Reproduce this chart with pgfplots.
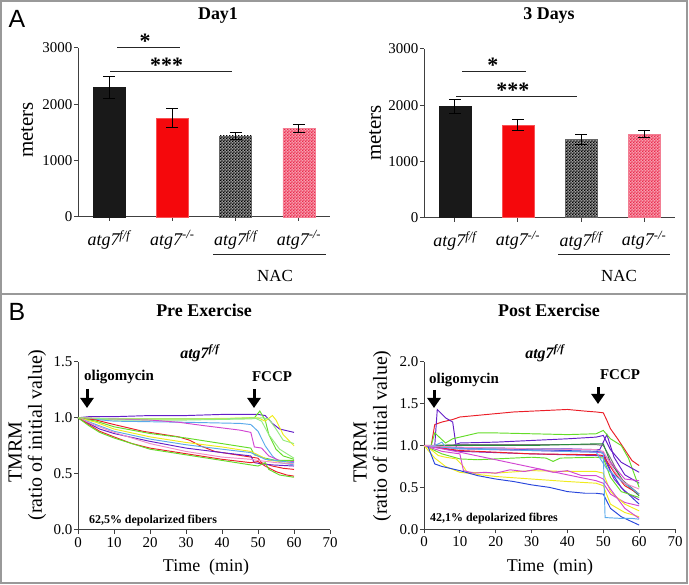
\documentclass[border=0pt]{standalone}
\usepackage{fontspec}
\setmainfont{Liberation Serif}
\newfontfamily\sansf{Liberation Sans}
\usepackage{pgfplots}
\pgfplotsset{compat=1.18}
\usetikzlibrary{patterns,arrows.meta}
\pgfdeclarepatternformonly{finecheck}{\pgfpointorigin}{\pgfqpoint{3.2bp}{3.2bp}}{\pgfqpoint{3.2bp}{3.2bp}}{%
  \pgfpathrectangle{\pgfpointorigin}{\pgfqpoint{1.65bp}{1.65bp}}%
  \pgfpathrectangle{\pgfqpoint{1.6bp}{1.6bp}}{\pgfqpoint{1.65bp}{1.65bp}}%
  \pgfusepath{fill}}
\definecolor{barBlack}{RGB}{25,25,25}
\definecolor{barRed}{RGB}{245,8,12}
\definecolor{barPink}{RGB}{235,40,75}
\definecolor{tRed}{RGB}{235,30,40}
\definecolor{tGreen}{RGB}{100,220,40}
\definecolor{tLGreen}{RGB}{150,235,130}
\definecolor{tPurple}{RGB}{100,30,200}
\definecolor{tMag}{RGB}{210,70,210}
\definecolor{tYel}{RGB}{240,235,30}
\definecolor{tLBlue}{RGB}{90,170,235}
\definecolor{tBlue}{RGB}{40,70,220}
\definecolor{tPink}{RGB}{240,140,200}
\definecolor{tGray}{RGB}{120,120,120}
\definecolor{tDGreen}{RGB}{40,140,60}
\pgfplotsset{
  panel/.style={scale only axis, anchor=south west, axis lines=left,
    axis line style={-, line width=1bp, black!75},
    tick align=outside, major tick length=4bp,
    tick style={line width=1bp, black!75},
    /pgf/number format/assume math mode=true,
    /pgf/number format/1000 sep={},
    tick label style={font=\rmfamily\fontsize{15}{15}\selectfont},
    yticklabel style={inner sep=1.5bp},
    clip=false},
  barpanel/.style={panel, xmin=-0.49, xmax=3.49, ymin=0, ymax=3000,
    ytick={0,1000,2000,3000}, xtick={0,1,2,3},
    xticklabels={atg7\textsuperscript{f/f}, atg7\textsuperscript{-/-}, atg7\textsuperscript{f/f}, atg7\textsuperscript{-/-}},
    xticklabel style={font=\rmfamily\fontsize{18}{18}\selectfont\itshape, yshift=-6bp}},
  bb/.style={ybar, bar shift=0pt, bar width=32bp},
  eb/.style={error bars/.cd, y dir=both, y explicit,
    error bar style={line width=1bp, black},
    error mark options={rotate=90, mark size=6bp, line width=1bp, black}},
  tracepanel/.style={panel, xmin=0, xmax=70, ymin=0, xtick={0,10,...,70},
    yticklabel style={/pgf/number format/.cd, fixed, fixed zerofill, precision=1},
    every axis plot/.append style={line width=0.95bp, mark=none}},
}
\begin{document}
\begin{tikzpicture}[x=1bp,y=1bp]
\path (0,0) rectangle (689,585);
\draw[black!40, line width=1.5bp] (1,2) rectangle (687,584);
\draw[black!40, line width=1.5bp] (1,291) -- (687,291);

% ---------- Panel A, Day1 ----------
\begin{axis}[barpanel, at={(78bp,368bp)}, width=252bp, height=169bp]
\addplot[bb, fill=barBlack, draw=barBlack, eb] coordinates {(0,2300) +- (0,190)};
\addplot[bb, fill=barRed, draw=barRed!70, eb] coordinates {(1,1760) +- (0,170)};
\addplot[bb, fill=black!40, postaction={pattern=finecheck, pattern color=black}, draw=black!60, eb] coordinates {(2,1440) +- (0,60)};
\addplot[bb, fill=barPink!45, postaction={pattern=finecheck, pattern color=barPink}, draw=barPink!60, eb] coordinates {(3,1575) +- (0,75)};
\draw[line width=1bp, black!85] (axis cs:0.13,3000) -- (axis cs:1.12,3000);
\draw[line width=1bp, black!85] (axis cs:0.02,2580) -- (axis cs:1.94,2580);
\node[anchor=base, font=\fontsize{22}{22}\selectfont\bfseries] at (axis cs:0.57,2990) {*};
\node[anchor=base, font=\fontsize{22}{22}\selectfont\bfseries] at (axis cs:0.91,2560) {***};
\end{axis}

% ---------- Panel A, 3 Days ----------
\begin{axis}[barpanel, at={(424bp,367.3bp)}, width=251bp, height=168.7bp]
\addplot[bb, fill=barBlack, draw=barBlack, eb] coordinates {(0,1980) +- (0,120)};
\addplot[bb, fill=barRed, draw=barRed!70, eb] coordinates {(1,1645) +- (0,95)};
\addplot[bb, fill=black!40, postaction={pattern=finecheck, pattern color=black}, draw=black!60, eb] coordinates {(2,1390) +- (0,90)};
\addplot[bb, fill=barPink!45, postaction={pattern=finecheck, pattern color=barPink}, draw=barPink!60, eb] coordinates {(3,1485) +- (0,65)};
\draw[line width=1bp, black!85] (axis cs:0.12,2600) -- (axis cs:1.12,2600);
\draw[line width=1bp, black!85] (axis cs:0.02,2160) -- (axis cs:1.94,2160);
\node[anchor=base, font=\fontsize{22}{22}\selectfont\bfseries] at (axis cs:0.6,2590) {*};
\node[anchor=base, font=\fontsize{22}{22}\selectfont\bfseries] at (axis cs:0.92,2140) {***};
\end{axis}

% ---------- Panel B, Pre Exercise ----------
\begin{axis}[tracepanel, at={(78bp,55bp)}, width=252bp, height=168.3bp, ymax=1.5, ytick={0,0.5,1,1.5}]
\addplot[tPurple] coordinates {(0,1.0)(3,1.01)(10,1.01)(20,1.02)(30,1.02)(40,1.03)(48,1.03)(50,1.03)(52,1.02)(54,0.95)(56,0.9)(60,0.87)};
\addplot[tGreen] coordinates {(0,1.0)(5,0.99)(20,0.99)(40,0.99)(49,1.0)(50.5,1.06)(52,0.98)(53,0.85)(55,0.72)(57,0.66)(60,0.63)};
\addplot[tYel] coordinates {(0,1.0)(10,0.99)(30,0.99)(50,1.0)(52,0.97)(54,1.02)(55,0.98)(57,0.85)(60,0.75)};
\addplot[tLGreen] coordinates {(0,1.0)(10,0.98)(30,0.98)(48,0.99)(51,1.0)(53,0.99)(55,0.9)(57,0.8)(60,0.77)};
\addplot[tLBlue] coordinates {(0,1.0)(10,0.97)(30,0.96)(45,0.95)(48,0.94)(50,0.88)(52,0.75)(54,0.66)(56,0.6)(60,0.58)};
\addplot[tMag] coordinates {(0,1.0)(10,0.99)(20,0.98)(28,0.96)(35,0.93)(45,0.89)(48,0.87)(49,0.74)(51,0.73)(53,0.66)(56,0.62)(60,0.61)};
\addplot[tRed] coordinates {(0,1.0)(5,0.98)(10,0.94)(18,0.88)(24,0.85)(28,0.83)(31,0.8)(34,0.75)(38,0.7)(44,0.67)(48,0.65)(50,0.64)(51,0.6)(54,0.57)(57,0.55)(60,0.54)};
\addplot[tGreen] coordinates {(0,1.0)(5,0.97)(10,0.92)(20,0.86)(30,0.82)(40,0.77)(48,0.73)(49,0.67)(50,0.66)(52,0.64)(55,0.62)(60,0.62)};
\addplot[tYel] coordinates {(0,1.0)(5,0.96)(10,0.9)(20,0.83)(30,0.78)(40,0.74)(48,0.7)(50,0.67)(53,0.62)(60,0.6)};
\addplot[tLBlue] coordinates {(0,1.0)(5,0.94)(10,0.88)(20,0.81)(30,0.76)(40,0.72)(48,0.69)(50,0.66)(52,0.63)(60,0.6)};
\addplot[tPurple] coordinates {(0,1.0)(3,0.95)(6,0.9)(10,0.86)(20,0.79)(30,0.73)(40,0.69)(48,0.66)(49,0.6)(51,0.59)(54,0.58)(60,0.57)};
\addplot[tPink] coordinates {(0,1.0)(5,0.93)(10,0.87)(20,0.77)(30,0.7)(40,0.65)(48,0.63)(50,0.62)(55,0.6)(60,0.59)};
\addplot[tRed] coordinates {(0,1.0)(3,0.94)(6,0.88)(10,0.83)(15,0.77)(20,0.73)(30,0.68)(40,0.63)(48,0.6)(50,0.61)(52,0.57)(55,0.52)(58,0.49)(60,0.48)};
\addplot[tGreen] coordinates {(0,1.0)(3,0.93)(6,0.87)(10,0.82)(20,0.72)(30,0.67)(40,0.62)(48,0.58)(50,0.57)(52,0.6)(53,0.54)(56,0.49)(60,0.47)};
\addplot[tLGreen] coordinates {(0,1.0)(10,0.99)(40,0.99)(49,1.0)(51,0.97)(53,0.85)(56,0.72)(60,0.64)};
\end{axis}

% ---------- Panel B, Post Exercise ----------
\begin{axis}[tracepanel, at={(424bp,55.7bp)}, width=251bp, height=167.6bp, ymax=2, ytick={0,0.5,1,1.5,2}]
\addplot[tRed] coordinates {(0,1.0)(2,1.0)(3,1.25)(5,1.28)(8,1.31)(10,1.34)(15,1.36)(20,1.38)(25,1.40)(30,1.41)(35,1.42)(40,1.43)(45,1.41)(48,1.40)(50,1.39)(51,1.3)(52,1.2)(54,1.08)(56,0.95)(58,0.82)(60,0.76)};
\addplot[tPurple] coordinates {(0,1.0)(3,1.0)(3.7,1.43)(6,1.33)(8,1.28)(9,0.98)(12,0.97)(20,0.97)(30,0.96)(40,0.96)(49,0.95)(51,1.13)(53,0.86)(56,0.65)(60,0.55)};
\addplot[tGreen] coordinates {(0,1.0)(2,1.0)(3,1.15)(5,1.07)(6,1.03)(8,1.08)(10,1.1)(15,1.15)(20,1.15)(30,1.14)(40,1.13)(48,1.14)(50,1.18)(52,1.08)(55,1.0)(57,0.85)(60,0.5)};
\addplot[tPurple] coordinates {(0,1.0)(8,1.0)(10,1.03)(20,1.04)(30,1.06)(40,1.08)(48,1.1)(50,1.12)(52,0.95)(55,0.8)(60,0.68)};
\addplot[tGray] coordinates {(0,1.0)(10,1.01)(30,1.01)(48,1.01)(50,1.0)(52,0.85)(55,0.6)(60,0.42)};
\addplot[tDGreen] coordinates {(0,1.0)(10,1.0)(30,1.0)(48,1.02)(50,1.02)(52,0.8)(56,0.55)(60,0.4)};
\addplot[tBlue!80!tPurple] coordinates {(0,1.0)(10,0.97)(30,0.95)(48,0.93)(50,0.92)(52,0.7)(55,0.5)(60,0.3)};
\addplot[tMag] coordinates {(0,1.0)(10,0.96)(30,0.94)(48,0.92)(50,0.91)(53,0.75)(56,0.6)(60,0.58)};
\addplot[tPurple!80!tMag] coordinates {(0,1.0)(10,0.93)(30,0.9)(48,0.88)(50,0.87)(53,0.6)(56,0.45)(60,0.35)};
\addplot[tRed] coordinates {(0,1.0)(10,0.94)(30,0.9)(48,0.89)(50,0.88)(53,0.68)(56,0.52)(60,0.42)};
\addplot[tGreen] coordinates {(0,1.0)(5,0.9)(10,0.84)(15,0.83)(20,0.84)(30,0.86)(34,0.85)(36,0.81)(38,0.85)(48,0.86)(50,0.85)(52,0.62)(55,0.45)(60,0.38)};
\addplot[tMag] coordinates {(0,1.0)(10,0.92)(20,0.83)(30,0.74)(40,0.65)(48,0.58)(50,0.55)(52,0.42)(56,0.32)(60,0.28)};
\addplot[tYel] coordinates {(0,1.0)(2,0.95)(4,0.88)(6,0.86)(9,0.84)(11,0.75)(12,0.68)(20,0.67)(30,0.7)(40,0.69)(48,0.69)(50,0.67)(52,0.45)(56,0.3)(60,0.22)};
\addplot[tYel] coordinates {(0,1.0)(3,0.85)(6,0.75)(10,0.68)(20,0.63)(30,0.6)(40,0.57)(48,0.55)(50,0.52)(52,0.3)(56,0.2)(60,0.15)};
\addplot[tMag] coordinates {(0,1.0)(5,0.93)(10,0.9)(11,0.7)(14,0.67)(17,0.68)(20,0.67)(24,0.71)(28,0.69)(32,0.72)(36,0.68)(40,0.7)(44,0.64)(48,0.64)(50,0.6)(52,0.48)(56,0.25)(60,0.13)};
\addplot[tBlue] coordinates {(0,1.0)(1,1.0)(3,0.78)(5,0.75)(10,0.7)(15,0.64)(20,0.6)(25,0.57)(30,0.53)(35,0.5)(40,0.45)(45,0.43)(48,0.43)(50,0.42)(52,0.25)(55,0.15)(58,0.09)(60,0.05)};
\addplot[tLBlue] coordinates {(0,1.0)(3,1.0)(5,1.04)(6,0.98)(10,0.97)(30,0.96)(48,0.95)(50,0.9)(50.5,0.14)(55,0.13)(58,0.13)(60,0.12)};
\addplot[tLBlue] coordinates {(0,1.0)(10,0.96)(30,0.94)(48,0.92)(51,0.72)(55,0.58)(60,0.42)};
\addplot[tPink] coordinates {(0,1.0)(10,0.98)(30,0.96)(48,0.95)(50,0.93)(53,0.7)(56,0.55)(60,0.48)};
\end{axis}

% ---------- texts ----------
\node[font=\sansf\fontsize{25}{25}\selectfont] at (17,566) {A};
\node[font=\sansf\fontsize{25}{25}\selectfont] at (17,273) {B};
\node[font=\fontsize{18}{18}\selectfont\bfseries] at (218,569) {Day1};
\node[font=\fontsize{18}{18}\selectfont\bfseries] at (549,569) {3 Days};
\node[rotate=90, font=\fontsize{21}{21}\selectfont] at (27,455) {meters};
\node[rotate=90, font=\fontsize{21}{21}\selectfont] at (375,452) {meters};
\draw[line width=1bp, black!85] (213,330) -- (326,330);
\draw[line width=1bp, black!85] (558,330) -- (670,330);
\node[font=\fontsize{17}{17}\selectfont] at (275,309) {NAC};
\node[font=\fontsize{17}{17}\selectfont] at (619,309) {NAC};

\node[font=\fontsize{18}{18}\selectfont\bfseries] at (204,275) {Pre Exercise};
\node[font=\fontsize{18}{18}\selectfont\bfseries] at (549,275) {Post Exercise};
\node[font=\fontsize{16}{16}\selectfont\bfseries\itshape] at (200,232) {atg7\textsuperscript{f/f}};
\node[font=\fontsize{16}{16}\selectfont\bfseries\itshape] at (545,232) {atg7\textsuperscript{f/f}};
\node[rotate=90, font=\fontsize{20}{20}\selectfont] at (15,133) {TMRM};
\node[rotate=90, font=\fontsize{20}{20}\selectfont] at (37,150) {(ratio of initial value)};
\node[rotate=90, font=\fontsize{20}{20}\selectfont] at (360,133) {TMRM};
\node[rotate=90, font=\fontsize{20}{20}\selectfont] at (382,149) {(ratio of initial value)};
\node[font=\fontsize{18}{18}\selectfont] at (206,18) {Time\ \ (min)};
\node[font=\fontsize{18}{18}\selectfont] at (550,18) {Time\ \ (min)};
\node[font=\fontsize{15}{15}\selectfont\bfseries] at (119,208) {oligomycin};
\node[font=\fontsize{15}{15}\selectfont\bfseries] at (272,208) {FCCP};
\node[font=\fontsize{15}{15}\selectfont\bfseries] at (464,205) {oligomycin};
\node[font=\fontsize{15}{15}\selectfont\bfseries] at (620,210) {FCCP};
\draw[line width=3bp, -{Triangle[width=13bp,length=10bp]}] (87,196) -- (87,177);
\draw[line width=3bp, -{Triangle[width=13bp,length=10bp]}] (254,196) -- (254,177);
\draw[line width=3bp, -{Triangle[width=13bp,length=10bp]}] (434,195) -- (434,177);
\draw[line width=3bp, -{Triangle[width=13bp,length=10bp]}] (598,198) -- (598,181);
\node[font=\fontsize{12}{12}\selectfont\bfseries] at (153,64) {62,5\% depolarized fibers};
\node[font=\fontsize{12}{12}\selectfont\bfseries] at (494,66) {42,1\% depolarized fibres};
\end{tikzpicture}
\end{document}
